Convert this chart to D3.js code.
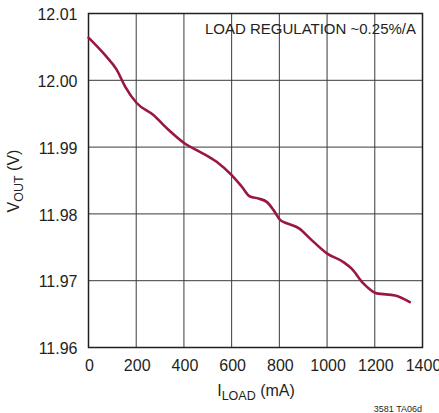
<!DOCTYPE html>
<html><head><meta charset="utf-8">
<script src="https://cdn.jsdelivr.net/npm/d3@7"></script>
<style>body{margin:0;background:#fff}svg{display:block}text{font-family:"Liberation Sans",Arial,sans-serif;fill:#231f20}</style>
</head><body><svg id="c" width="439" height="413"></svg>
<script>
const loadCurrent = [0, 69, 118, 153, 202, 272, 335, 405, 467, 537, 600, 642, 677, 712, 747, 775, 803, 831, 884, 929, 999, 1068, 1103, 1152, 1208, 1285, 1347];
const vout = [12.0064, 12.0038, 12.0016, 11.9991, 11.9966, 11.9948, 11.9926, 11.9905, 11.9893, 11.9878, 11.9858, 11.9841, 11.9826, 11.9823, 11.9818, 11.9806, 11.9791, 11.9786, 11.9778, 11.9763, 11.9741, 11.9728, 11.9718, 11.9696, 11.9681, 11.9678, 11.9668];
const xTicks = [0, 200, 400, 600, 800, 1000, 1200, 1400];
const yTicks = [11.96, 11.97, 11.98, 11.99, 12.00, 12.01];
const annotation = "LOAD REGULATION ~0.25%/A";
const footnote = "3581 TA06d";

const svg = d3.select("#c");
const x = d3.scaleLinear().domain([0, 1400]).range([88.5, 422.5]);
const y = d3.scaleLinear().domain([11.96, 12.01]).range([347.5, 13.5]);

// grid
svg.append("g").selectAll("line").data(xTicks).join("line")
  .attr("x1", d => x(d)).attr("x2", d => x(d)).attr("y1", y(12.01)).attr("y2", y(11.96))
  .attr("stroke", "#3a3a3a").attr("stroke-width", 1);
svg.append("g").selectAll("line").data(yTicks).join("line")
  .attr("y1", d => y(d)).attr("y2", d => y(d)).attr("x1", x(0)).attr("x2", x(1400))
  .attr("stroke", "#3a3a3a").attr("stroke-width", 1);
svg.append("rect").attr("x", x(0)).attr("y", y(12.01)).attr("width", x(1400) - x(0)).attr("height", y(11.96) - y(12.01))
  .attr("fill", "none").attr("stroke", "#231f20").attr("stroke-width", 1.5);

// axes labels
const xAxis = d3.axisBottom(x).tickValues(xTicks).tickSize(0).tickPadding(12).tickFormat(d3.format("d"));
const gx = svg.append("g").attr("transform", `translate(0.5,${y(11.96)})`).call(xAxis);
gx.select(".domain").remove();
gx.selectAll("text").style("font-size", "16px").attr("fill", "#231f20");

const yAxis = d3.axisLeft(y).tickValues(yTicks).tickSize(0).tickPadding(11).tickFormat(d3.format(".2f"));
const gy = svg.append("g").attr("transform", `translate(${x(0)},1)`).call(yAxis);
gy.select(".domain").remove();
gy.selectAll("text").style("font-size", "16px").attr("fill", "#231f20");

// curve
const line = d3.line().x((d, i) => x(loadCurrent[i])).y(d => y(d)).curve(d3.curveMonotoneX);
svg.append("path").datum(vout).attr("d", line).attr("fill", "none")
  .attr("stroke", "#9a1840").attr("stroke-width", 2.6).attr("stroke-linejoin", "round").attr("stroke-linecap", "round");

// annotation
svg.append("text").attr("x", 416).attr("y", 34).attr("text-anchor", "end").style("font-size", "15px").text(annotation);

// x title
const xt = svg.append("text").attr("x", 256).attr("y", 396).attr("text-anchor", "middle").style("font-size", "16px");
xt.append("tspan").text("I");
xt.append("tspan").attr("dy", 4).style("font-size", "12.5px").text("LOAD");
xt.append("tspan").attr("dy", -4).text(" (mA)");

// y title
const yt = svg.append("text").attr("transform", "translate(19,181) rotate(-90)").attr("text-anchor", "middle").style("font-size", "16px");
yt.append("tspan").text("V");
yt.append("tspan").attr("dy", 4).style("font-size", "12.5px").text("OUT");
yt.append("tspan").attr("dy", -4).text(" (V)");

// footnote
svg.append("text").attr("x", 422).attr("y", 412).attr("text-anchor", "end").style("font-size", "9px").text(footnote);
</script></body></html>
